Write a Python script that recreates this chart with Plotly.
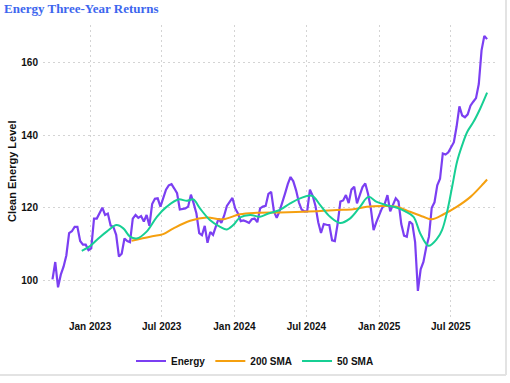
import pandas as pd
import plotly.graph_objects as go

# ---- data ----
energy_dates = pd.date_range("2022-09-28", periods=158, freq="7D")
energy_values = [
    100.2, 105, 98.0, 101.5, 103.7, 106.8, 113, 113.5, 114.7, 114.7,
    110.8, 109.8, 109.8, 108.3, 108.8, 117, 117, 118.7, 120, 118,
    118.4, 115.1, 114.7, 112.5, 106.5, 107.3, 111.5, 110.8, 110.5, 117,
    118, 117.2, 117.7, 116.2, 118, 115, 121, 122.5, 122.6, 120.3,
    122.5, 125, 126.2, 126.5, 125.3, 124, 119.5, 119.7, 119.8, 120.3,
    123.6, 121.2, 118.4, 113, 112.4, 115, 110.3, 113.3, 112.5, 114.8,
    117, 115.8, 117.8, 120.5, 121.5, 122.7, 119.8, 118.4, 116.3, 116.5,
    116.2, 115.8, 116.8, 117, 116, 119.8, 120.3, 120.5, 123.8, 124.4,
    119, 117.2, 119, 121.8, 123.9, 126.5, 128.5, 127.3, 124.8, 121.5,
    119.5, 119, 119, 125, 123.3, 120.5, 116, 113, 115.5, 115.3,
    115.2, 111, 110.8, 115.5, 121.7, 122, 123.5, 121.3, 125, 125.8,
    121.2, 123.5, 125.7, 126.7, 123.8, 119.8, 113.8, 116, 118, 119.8,
    121, 123.5, 119, 121, 122.6, 121.7, 115.5, 112.3, 112, 116.2,
    115.5, 110.5, 97, 103, 105, 109, 112, 120, 121.5, 126.2,
    128, 135, 134.7, 135.3, 136.7, 138.1, 142.5, 148, 145.5, 145,
    145.8, 148.2, 149.3, 150.3, 154.2, 163.5, 167.5, 166.6,
]

sma200_dates = [
    "2023-04-16", "2023-06-02", "2023-07-05", "2023-07-31", "2023-09-11",
    "2023-10-23", "2023-12-04", "2024-01-15", "2024-02-27", "2024-04-25",
    "2024-06-23", "2024-08-05", "2024-09-16", "2024-10-28", "2024-12-01",
    "2025-01-12", "2025-02-15", "2025-03-20", "2025-04-23", "2025-05-14",
    "2025-06-13", "2025-07-17", "2025-08-20", "2025-09-22", "2025-10-01",
]
sma200_values = [
    110.9, 112, 112.7, 114.3, 116.4,
    117.3, 116.8, 118.2, 118.6, 118.7,
    118.9, 119.1, 119.4, 119.6, 120.3,
    120.5, 120.3, 118.9, 117.5, 116.8,
    118.2, 120.3, 123, 126.7, 127.8,
]

sma50_dates = [
    "2022-12-11", "2023-01-01", "2023-01-22", "2023-02-12", "2023-03-09",
    "2023-03-26", "2023-04-12", "2023-04-29", "2023-05-24", "2023-06-19",
    "2023-07-14", "2023-08-12", "2023-09-03", "2023-09-19", "2023-10-06",
    "2023-10-31", "2023-11-26", "2023-12-13", "2023-12-29", "2024-01-15",
    "2024-02-10", "2024-03-06", "2024-03-27", "2024-04-25", "2024-05-21",
    "2024-06-15", "2024-07-15", "2024-08-05", "2024-08-30", "2024-09-24",
    "2024-10-19", "2024-11-14", "2024-12-05", "2024-12-26", "2025-01-20",
    "2025-02-15", "2025-03-08", "2025-03-29", "2025-04-15", "2025-05-06",
    "2025-05-28", "2025-06-09", "2025-06-22", "2025-07-05", "2025-07-17",
    "2025-07-30", "2025-08-12", "2025-08-28", "2025-09-14", "2025-10-01",
]
sma50_values = [
    108.1, 109.4, 111.5, 113.4, 115.2,
    114.3, 112, 111.5, 113.4, 117.5,
    120.3, 122.3, 121.9, 122.3, 119.8,
    116.6, 114.7, 114, 115.2, 117.3,
    118, 117.5, 118.4, 119.4, 121.2,
    122.6, 123.3, 120.7, 117.5, 115.8,
    117, 120.3, 123, 121.6, 120.7,
    120, 119, 117.5, 112.9, 109.5,
    111.5, 113.8, 118.9, 126, 132.7,
    137.3, 141, 143.8, 147.5, 151.8,
]

tick_dates = ["2023-01-01", "2023-07-01", "2024-01-01", "2024-07-01", "2025-01-01", "2025-07-01"]
tick_labels = ["Jan 2023", "Jul 2023", "Jan 2024", "Jul 2024", "Jan 2025", "Jul 2025"]
y_ticks = [100, 120, 140, 160]

# ---- figure ----
fig = go.Figure()
fig.add_trace(go.Scatter(x=energy_dates, y=energy_values, mode="lines", name="<b>Energy</b>",
                         line=dict(color="#7b3ff2", width=2.2)))
fig.add_trace(go.Scatter(x=sma200_dates, y=sma200_values, mode="lines", name="<b>200 SMA</b>",
                         line=dict(color="#f5a00f", width=2, shape="spline")))
fig.add_trace(go.Scatter(x=sma50_dates, y=sma50_values, mode="lines", name="<b>50 SMA</b>",
                         line=dict(color="#17cf94", width=2, shape="spline")))

sans = "Liberation Sans, Arial, sans-serif"
tick_font = dict(family=sans, size=10, color="#111")

fig.update_layout(
    width=510, height=383,
    margin=dict(l=43, r=15, t=25, b=66),
    paper_bgcolor="white", plot_bgcolor="white",
    xaxis=dict(range=["2022-09-04", "2025-10-21"], automargin=False,
               tickvals=tick_dates, ticktext=[f"<b>{t}</b>" for t in tick_labels],
               tickfont=tick_font, showgrid=True, gridcolor="#d4d4d4", griddash="2px,3px",
               gridwidth=1, zeroline=False, showline=False, ticks="", ticklabelstandoff=2),
    yaxis=dict(range=[89.8, 170.5], automargin=False, tickvals=y_ticks,
               ticktext=[f"<b>{v}</b>" for v in y_ticks],
               tickfont=tick_font, showgrid=True, gridcolor="#d4d4d4", griddash="2px,3px",
               gridwidth=1, zeroline=False, showline=False, ticks="",
               ticklabelstandoff=4),
    legend=dict(orientation="h", x=0.5, xanchor="center", xref="container",
                y=0.0574, yanchor="middle", yref="container",
                font=dict(family=sans, size=10, color="#111"),
                itemwidth=30, bgcolor="rgba(0,0,0,0)"),
    showlegend=True,
)

# chart title and y-axis title as annotations for precise placement
fig.add_annotation(text="<b>Energy Three-Year Returns</b>", xref="paper", yref="paper",
                   x=-0.0907, y=1.0548, xanchor="left", yanchor="middle", showarrow=False,
                   font=dict(family="Liberation Serif, serif", size=13, color="#3d66ee"))
fig.add_annotation(text="<b>Clean Energy Level</b>", xref="paper", yref="paper",
                   x=-0.0685, y=0.5, xanchor="center", yanchor="middle", showarrow=False,
                   textangle=-90, font=dict(family=sans, size=11, color="#111"))

# card border (right and bottom edges)
fig.add_shape(type="line", xref="paper", yref="paper", x0=1.0243, x1=1.0243, y0=-0.1986, y1=1.09,
              line=dict(color="#e3e3e3", width=2))
fig.add_shape(type="line", xref="paper", yref="paper", x0=-0.1, x1=1.0243, y0=-0.1986, y1=-0.1986,
              line=dict(color="#e3e3e3", width=2))

fig.write_html("out.html", config={"displayModeBar": False},
               post_script="document.body.style.margin='0';")
